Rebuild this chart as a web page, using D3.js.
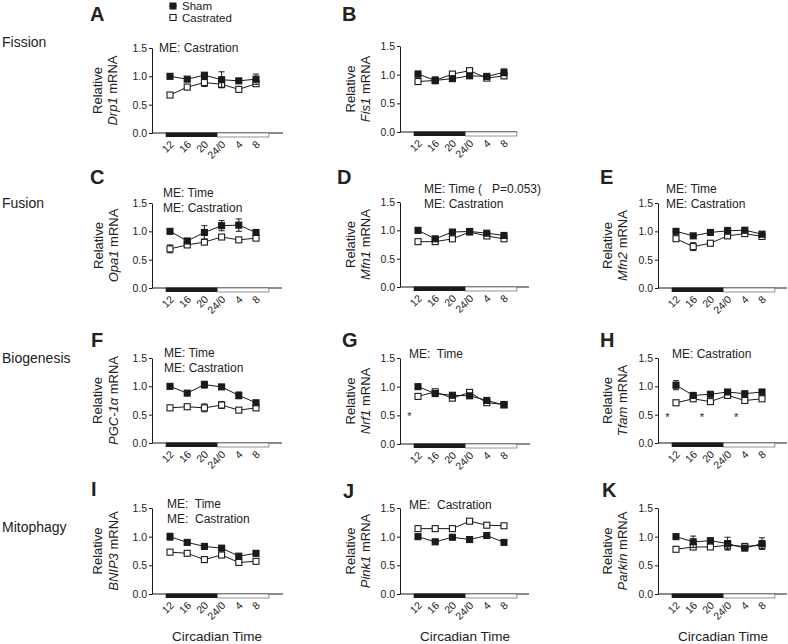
<!DOCTYPE html>
<html><head><meta charset="utf-8">
<script src="https://cdn.jsdelivr.net/npm/d3@7"></script>
<style>body{margin:0;background:#fff}svg{display:block}text{font-family:Arial,"Liberation Sans",sans-serif;fill:#222}</style>
</head><body><svg id="chart" width="788" height="644"></svg>
<script>
// ---------- DATA ----------
const timeLabels = ["12","16","20","24/0","4","8"];
const yTicks = [0, 0.5, 1.0, 1.5];
const seriesNames = ["Sham","Castrated"];
const panelLetters = ["A","B","C","D","E","F","G","H","I","J","K"];
const genes = ["Drp1","Fis1","Opa1","Mfn1","Mfn2","PGC-1\u03b1","Nrf1","Tfam","BNIP3","Pink1","Parkin"];
const rowLabels = ["Fission","Fusion","Biogenesis","Mitophagy"];
const xTitle = "Circadian Time";

const drp1Sham = [1.00,0.95,1.02,0.94,0.92,0.95];
const drp1Cast = [0.67,0.81,0.89,0.86,0.77,0.87];
const drp1ShamErr = [0.02,0.02,0.03,0.14,0.02,0.09];
const drp1CastErr = [0.04,0.03,0.07,0.06,0.03,0.03];

const fis1Sham = [1.01,0.90,0.93,0.98,0.97,1.04];
const fis1Cast = [0.88,0.90,1.01,1.07,0.94,0.98];
const fis1ShamErr = [0.05,0.06,0.03,0.04,0.03,0.06];
const fis1CastErr = [0.02,0.03,0.03,0.02,0.03,0.05];

const opa1Sham = [1.00,0.83,0.98,1.10,1.11,0.98];
const opa1Cast = [0.69,0.76,0.81,0.90,0.85,0.88];
const opa1ShamErr = [0.02,0.04,0.12,0.09,0.11,0.04];
const opa1CastErr = [0.07,0.02,0.03,0.02,0.02,0.03];

const mfn1Sham = [1.00,0.85,0.97,0.98,0.95,0.91];
const mfn1Cast = [0.80,0.80,0.85,0.97,0.90,0.85];
const mfn1ShamErr = [0.02,0.03,0.03,0.03,0.02,0.02];
const mfn1CastErr = [0.02,0.02,0.03,0.03,0.02,0.03];

const mfn2Sham = [1.00,0.92,0.98,1.01,1.02,0.95];
const mfn2Cast = [0.87,0.73,0.79,0.92,0.96,0.91];
const mfn2ShamErr = [0.02,0.03,0.03,0.06,0.04,0.02];
const mfn2CastErr = [0.02,0.07,0.02,0.03,0.02,0.02];

const pgcSham = [1.00,0.88,1.03,0.99,0.84,0.71];
const pgcCast = [0.62,0.64,0.62,0.67,0.58,0.62];
const pgcShamErr = [0.02,0.02,0.06,0.02,0.06,0.02];
const pgcCastErr = [0.03,0.02,0.07,0.06,0.02,0.02];

const nrf1Sham = [1.00,0.88,0.85,0.84,0.76,0.68];
const nrf1Cast = [0.83,0.91,0.80,0.90,0.72,0.69];
const nrf1ShamErr = [0.02,0.03,0.03,0.02,0.02,0.03];
const nrf1CastErr = [0.02,0.02,0.03,0.02,0.02,0.02];

const tfamSham = [1.02,0.84,0.86,0.90,0.87,0.90];
const tfamCast = [0.71,0.78,0.73,0.84,0.75,0.78];
const tfamShamErr = [0.08,0.02,0.02,0.03,0.02,0.02];
const tfamCastErr = [0.02,0.02,0.02,0.03,0.02,0.02];

const bnip3Sham = [1.00,0.90,0.83,0.80,0.66,0.71];
const bnip3Cast = [0.73,0.71,0.60,0.68,0.55,0.57];
const bnip3ShamErr = [0.06,0.02,0.02,0.02,0.02,0.02];
const bnip3CastErr = [0.02,0.02,0.02,0.02,0.02,0.02];

const pink1Sham = [1.00,0.91,0.99,0.95,1.02,0.90];
const pink1Cast = [1.14,1.14,1.14,1.27,1.20,1.19];
const pink1ShamErr = [0.02,0.02,0.02,0.02,0.05,0.02];
const pink1CastErr = [0.02,0.02,0.02,0.02,0.02,0.02];

const parkinSham = [1.00,0.91,0.93,0.88,0.80,0.88];
const parkinCast = [0.78,0.82,0.82,0.85,0.83,0.85];
const parkinShamErr = [0.02,0.10,0.02,0.11,0.02,0.10];
const parkinCastErr = [0.02,0.03,0.02,0.08,0.02,0.07];

const shamSeries = [drp1Sham,fis1Sham,opa1Sham,mfn1Sham,mfn2Sham,pgcSham,nrf1Sham,tfamSham,bnip3Sham,pink1Sham,parkinSham];
const castSeries = [drp1Cast,fis1Cast,opa1Cast,mfn1Cast,mfn2Cast,pgcCast,nrf1Cast,tfamCast,bnip3Cast,pink1Cast,parkinCast];
const shamErrors = [drp1ShamErr,fis1ShamErr,opa1ShamErr,mfn1ShamErr,mfn2ShamErr,pgcShamErr,nrf1ShamErr,tfamShamErr,bnip3ShamErr,pink1ShamErr,parkinShamErr];
const castErrors = [drp1CastErr,fis1CastErr,opa1CastErr,mfn1CastErr,mfn2CastErr,pgcCastErr,nrf1CastErr,tfamCastErr,bnip3CastErr,pink1CastErr,parkinCastErr];

const annotations = [
  ["ME: Castration"], [], ["ME: Time","ME: Castration"], ["ME: Time (   P=0.053)","ME: Castration"],
  ["ME: Time","ME: Castration"], ["ME: Time","ME: Castration"], ["ME:  Time"], ["ME: Castration"],
  ["ME:  Time","ME:  Castration"], ["ME:  Castration"], []
];
// significance stars: [panel index, time position, value]
const stars = [[6,-0.5,0.55],[7,-0.5,0.52],[7,1.5,0.52],[7,3.5,0.52]];

// ---------- LAYOUT ----------
const layout = [
  {ax:152,yt:48,yb:133,xe:283,lx:90,ly:21,anx:159,any:48,yl:[-55,-40]},
  {ax:400,yt:46,yb:132,xe:517,lx:342,ly:21,anx:0,any:0,yl:[-50,-35]},
  {ax:152,yt:203,yb:288,xe:282,lx:90,ly:184,anx:163,any:193,yl:[-54,-39]},
  {ax:400,yt:202,yb:287,xe:529,lx:337,ly:184,anx:424,any:189,yl:[-50,-35]},
  {ax:658,yt:203,yb:288,xe:787,lx:600,ly:184,anx:666,any:189,yl:[-51,-36]},
  {ax:152,yt:358,yb:443,xe:282,lx:91,ly:347,anx:164,any:353,yl:[-55,-39]},
  {ax:400,yt:358,yb:444,xe:530,lx:342,ly:347,anx:409,any:354,yl:[-50,-35]},
  {ax:658,yt:358,yb:443,xe:787,lx:600,ly:347,anx:672,any:354,yl:[-51,-36]},
  {ax:152,yt:508,yb:594,xe:283,lx:91,ly:496,anx:167,any:504,yl:[-55,-39]},
  {ax:400,yt:508,yb:594,xe:529,lx:343,ly:498,anx:409,any:505,yl:[-50,-35]},
  {ax:658,yt:508,yb:594,xe:787,lx:602,ly:497,anx:660,any:0,yl:[-51,-36]}
];
const rowLabelPos = [{x:2,y:42},{x:2,y:203},{x:2,y:358},{x:2,y:527}];

const svg = d3.select("#chart");
const ink = "#1a1a1a";

rowLabels.forEach((t,i)=>{
  svg.append("text").attr("x",rowLabelPos[i].x).attr("y",rowLabelPos[i].y).attr("dy","0.35em")
    .style("font-size","14px").text(t);
});

// legend
const leg = svg.append("g");
seriesNames.forEach((n,i)=>{
  const yy = 6 + i*11.5;
  leg.append("line").attr("x1",169).attr("x2",177).attr("y1",yy).attr("y2",yy).attr("stroke",ink).attr("stroke-width",1);
  leg.append("rect").attr("x",170).attr("y",yy-3).attr("width",6).attr("height",6)
    .attr("fill",i===0?ink:"#fff").attr("stroke",ink).attr("stroke-width",1);
  leg.append("text").attr("x",182).attr("y",yy).attr("dy","0.35em").style("font-size","11.5px").text(n);
});

layout.forEach((L,p)=>{
  const g = svg.append("g");
  const x = d3.scaleLinear().domain([0,5]).range([L.ax+18, L.ax+18+5*17.2]);
  const y = d3.scaleLinear().domain([0,1.5]).range([L.yb, L.yt]);

  g.append("text").attr("x",L.lx).attr("y",L.ly).style("font-size","20px").style("font-weight","bold").text(panelLetters[p]);

  const yAx = g.append("g").attr("transform",`translate(${L.ax},0)`)
    .call(d3.axisLeft(y).tickValues(yTicks).tickFormat(d3.format(".1f")).tickSize(3).tickSizeOuter(0).tickPadding(2));
  yAx.select(".domain").attr("stroke",ink);
  yAx.selectAll(".tick line").attr("stroke",ink);
  yAx.selectAll("text").style("font-size","10.5px").style("font-family","Arial, 'Liberation Sans', sans-serif").attr("fill","#333");

  g.append("line").attr("x1",L.ax).attr("x2",L.xe).attr("y1",L.yb).attr("y2",L.yb).attr("stroke",ink).attr("stroke-width",1);
  g.append("rect").attr("x",x(-0.25)).attr("y",L.yb-0.5).attr("width",x(2.75)-x(-0.25)).attr("height",4.5).attr("fill",ink);
  g.append("rect").attr("x",x(2.75)).attr("y",L.yb).attr("width",x(5.75)-x(2.75)).attr("height",4)
    .attr("fill","#fff").attr("stroke","#666").attr("stroke-width",0.7);

  timeLabels.forEach((t,i)=>{
    g.append("text").attr("text-anchor","end").attr("dy","0.35em")
      .attr("transform",`translate(${x(i)+2},${L.yb+9.5}) rotate(-45)`)
      .style("font-size","10.5px").attr("fill","#333").text(t);
  });

  const cy = (L.yt+L.yb)/2;
  g.append("text").attr("text-anchor","middle").attr("transform",`translate(${L.ax+L.yl[0]},${cy}) rotate(-90)`)
    .attr("dy","0.35em").style("font-size","13px").text("Relative");
  const t2 = g.append("text").attr("text-anchor","middle").attr("transform",`translate(${L.ax+L.yl[1]},${cy}) rotate(-90)`)
    .attr("dy","0.35em").style("font-size","13px");
  t2.append("tspan").style("font-style","italic").text(genes[p]);
  t2.append("tspan").text(" mRNA");

  annotations[p].forEach((a,k)=>{
    g.append("text").attr("x",L.anx).attr("y",L.any+k*15).attr("dy","0.35em").style("font-size","12px").style("white-space","pre")
      .attr("xml:space","preserve").text(a);
  });

  if (p>=8){
    g.append("text").attr("x",L.ax+65).attr("y",636).attr("dy","0.35em").attr("text-anchor","middle")
      .style("font-size","13.5px").text(xTitle);
  }

  const line = d3.line().x((d,i)=>x(i)).y(d=>y(d));
  const groups = [
    {vals:castSeries[p], err:castErrors[p], fill:"#fff"},
    {vals:shamSeries[p], err:shamErrors[p], fill:ink}
  ];
  groups.forEach(s=>{
    g.append("path").datum(s.vals).attr("d",line).attr("fill","none").attr("stroke",ink).attr("stroke-width",1);
  });
  groups.forEach(s=>{
    s.vals.forEach((v,i)=>{
      const e = s.err[i];
      g.append("line").attr("x1",x(i)).attr("x2",x(i)).attr("y1",y(v-e)).attr("y2",y(v+e)).attr("stroke",ink).attr("stroke-width",1);
      [v-e,v+e].forEach(w=>g.append("line").attr("x1",x(i)-3).attr("x2",x(i)+3).attr("y1",y(w)).attr("y2",y(w)).attr("stroke",ink).attr("stroke-width",1));
    });
    g.selectAll(null).data(s.vals).enter().append("rect")
      .attr("x",(d,i)=>x(i)-3).attr("y",d=>y(d)-3).attr("width",6).attr("height",6)
      .attr("fill",s.fill).attr("stroke",ink).attr("stroke-width",1.1);
  });

  stars.filter(s=>s[0]===p).forEach(s=>{
    g.append("text").attr("x",x(s[1])).attr("y",y(s[2])).attr("dy","0.7em").attr("text-anchor","middle")
      .style("font-size","11px").text("*");
  });
});
</script></body></html>
